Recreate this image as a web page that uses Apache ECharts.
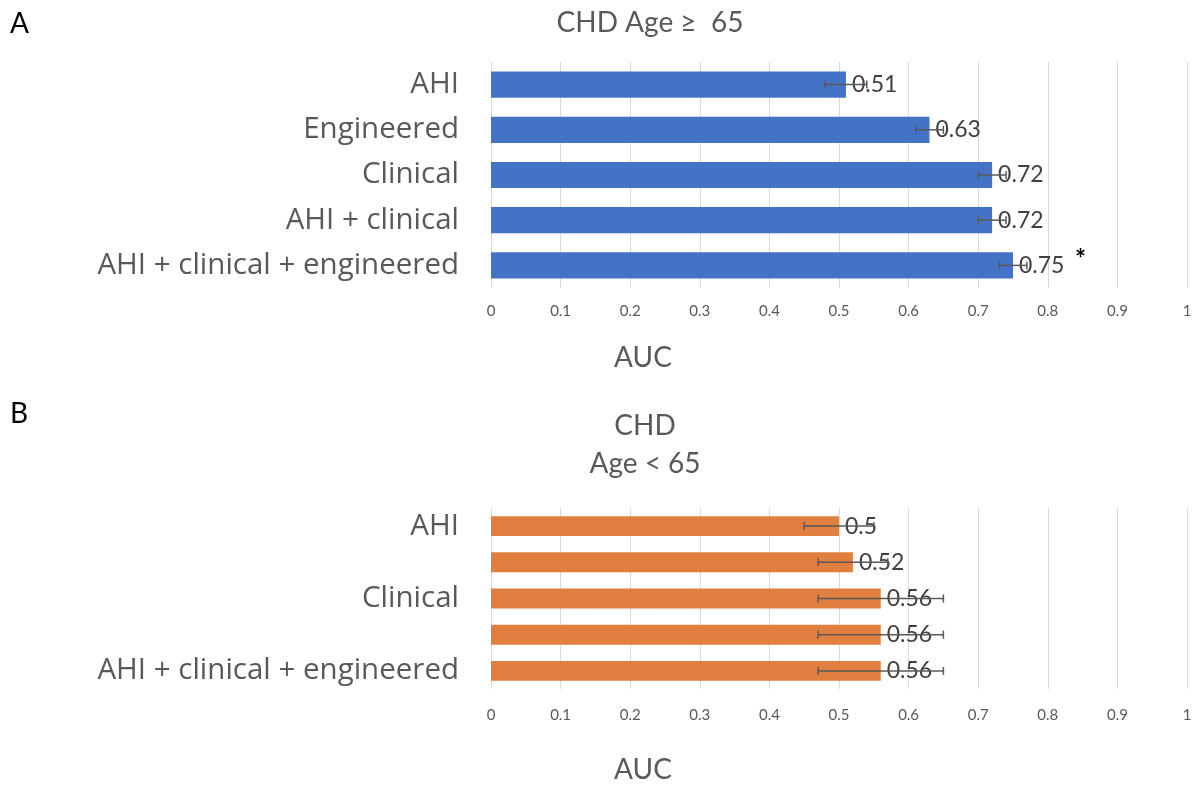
<!DOCTYPE html>
<html>
<head>
<meta charset="utf-8">
<script src="https://cdn.jsdelivr.net/npm/echarts@6/dist/echarts.min.js"></script>
<style>
  html, body { margin: 0; padding: 0; background: #fff; }
  #chart { width: 1196px; height: 786px; }
</style>
</head>
<body>
<div id="chart"></div>
<script>
// Panel A: CHD, age >= 65
const categoriesA = ["AHI", "Engineered", "Clinical", "AHI + clinical", "AHI + clinical + engineered"];
const aucA = [0.51, 0.63, 0.72, 0.72, 0.75];
const errA = [0.03, 0.02, 0.02, 0.02, 0.02];
const sigA = ["", "", "", "", "*"];

// Panel B: CHD, age < 65
const categoriesB = ["AHI", "Engineered", "Clinical", "AHI + clinical", "AHI + clinical + engineered"];
const aucB = [0.5, 0.52, 0.56, 0.56, 0.56];
const errB = [0.05, 0.05, 0.09, 0.09, 0.09];

const xTicks = [0, 0.1, 0.2, 0.3, 0.4, 0.5, 0.6, 0.7, 0.8, 0.9, 1];

const FONT = "Lato, 'Open Sans', sans-serif";
const CAT_FONT = "'Open Sans', Lato, sans-serif";
const GRAY = "#595959";

function errData(vals, errs) {
  return vals.map((v, i) => [v - errs[i], v + errs[i], i]);
}

function errorBarRender(params, api) {
  const lo = api.value(0), hi = api.value(1), idx = api.value(2);
  const p1 = api.coord([lo, idx]);
  const p2 = api.coord([hi, idx]);
  const h = 4;
  const style = { stroke: GRAY, lineWidth: 1.5 };
  return {
    type: "group",
    children: [
      { type: "line", shape: { x1: p1[0], y1: p1[1], x2: p2[0], y2: p2[1] }, style },
      { type: "line", shape: { x1: p1[0], y1: p1[1] - h, x2: p1[0], y2: p1[1] + h }, style },
      { type: "line", shape: { x1: p2[0], y1: p2[1] - h, x2: p2[0], y2: p2[1] + h }, style }
    ]
  };
}

function xAxis(gridIndex, margin) {
  return {
    type: "value", gridIndex, min: 0, max: 1, interval: 0.1,
    axisLine: { show: false }, axisTick: { show: false },
    splitLine: { show: true, lineStyle: { color: "#d9d9d9", width: 1 } },
    axisLabel: {
      margin, color: GRAY, fontFamily: FONT, fontSize: 15,
      formatter: v => { const t = xTicks.find(x => Math.abs(x - v) < 1e-9); return t === undefined ? "" : String(t); }
    }
  };
}

function yAxis(gridIndex, cats, interval) {
  return {
    type: "category", gridIndex, data: cats, inverse: true,
    axisLine: { show: false }, axisTick: { show: false },
    axisLabel: { color: GRAY, fontFamily: CAT_FONT, fontSize: 29.5, margin: 32, interval }
  };
}

function titleText(x, y, text) {
  return { type: "text", x, y, style: { text, font: "28px " + FONT, fill: GRAY, textAlign: "center", textVerticalAlign: "middle" } };
}

const chart = echarts.init(document.getElementById("chart"), null, { renderer: "canvas" });

chart.setOption({
  animation: false,
  backgroundColor: "#fff",
  grid: [
    { left: 491, right: 9, top: 62, height: 226 },
    { left: 491, right: 9, top: 508, height: 181 }
  ],
  xAxis: [xAxis(0, 16), xAxis(1, 19)],
  yAxis: [yAxis(0, categoriesA, 0), yAxis(1, categoriesB, 1)],
  graphic: [
    { type: "text", left: 10, top: 10, style: { text: "A", font: "28px " + FONT, fill: "#000" } },
    { type: "text", left: 10, top: 400, style: { text: "B", font: "28px " + FONT, fill: "#000" } },
    titleText(650, 23, "CHD Age \u2265  65"),
    titleText(645, 426, "CHD"),
    titleText(645, 464, "Age < 65"),
    titleText(643, 358, "AUC"),
    titleText(643, 770, "AUC")
  ],
  series: [
    {
      type: "bar", xAxisIndex: 0, yAxisIndex: 0, data: aucA, barWidth: "58%",
      itemStyle: { color: "#4472C4" },
      label: {
        show: true, position: "right", distance: 6,
        formatter: p => sigA[p.dataIndex] ? "{v|" + p.value + "}  {s|" + sigA[p.dataIndex] + "}" : "{v|" + p.value + "}",
        rich: {
          v: { color: "#404040", fontFamily: FONT, fontSize: 23 },
          s: { color: "#000", fontFamily: FONT, fontSize: 26, fontWeight: "bold", padding: [0, 0, 12, 4] }
        }
      },
      z: 2
    },
    {
      type: "custom", xAxisIndex: 0, yAxisIndex: 0, data: errData(aucA, errA),
      encode: { x: [0, 1], y: 2 }, renderItem: errorBarRender, z: 3
    },
    {
      type: "bar", xAxisIndex: 1, yAxisIndex: 1, data: aucB, barWidth: "55%",
      itemStyle: { color: "#E07F3F" },
      label: { show: true, position: "right", distance: 6, color: "#404040", fontFamily: FONT, fontSize: 23 },
      z: 2
    },
    {
      type: "custom", xAxisIndex: 1, yAxisIndex: 1, data: errData(aucB, errB),
      encode: { x: [0, 1], y: 2 }, renderItem: errorBarRender, z: 3
    }
  ]
});
</script>
</body>
</html>
